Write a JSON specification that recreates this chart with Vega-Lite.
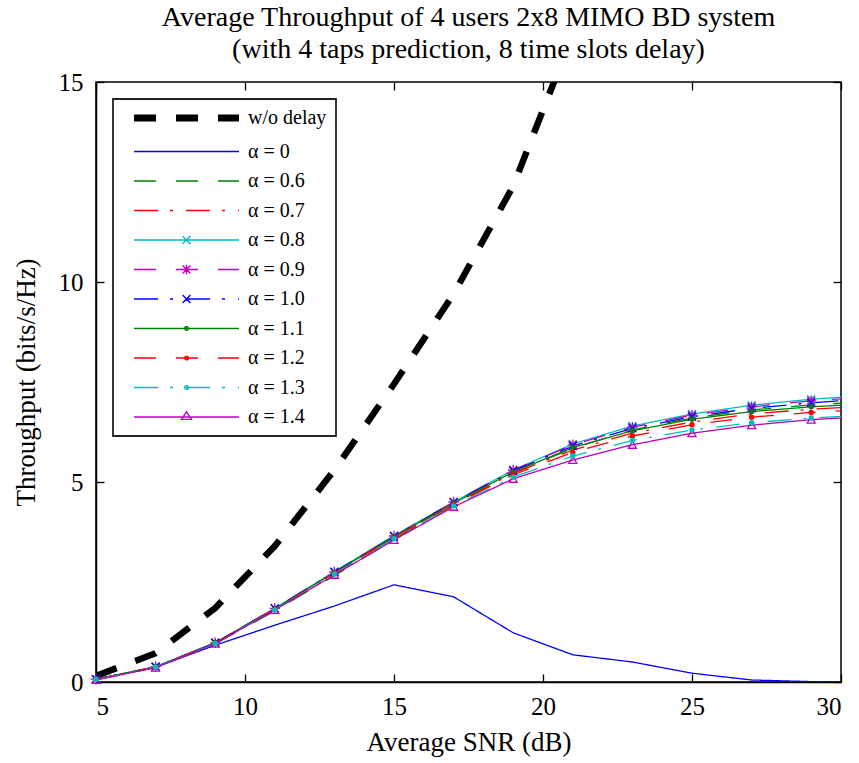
{
  "$schema": "https://vega.github.io/schema/vega-lite/v6.json",
  "width": 745,
  "height": 600,
  "autosize": {"type": "none"},
  "padding": {"left": 96, "top": 82, "right": 18, "bottom": 81},
  "background": "white",
  "title": {
    "text": ["Average Throughput of 4 users 2x8 MIMO BD system", "(with 4 taps prediction, 8 time slots delay)"],
    "font": "Liberation Serif",
    "fontSize": 28,
    "fontWeight": "normal",
    "lineHeight": 32,
    "offset": 6,
    "anchor": "middle",
    "color": "black"
  },
  "data": {
    "values": [
      {"series": "w/o delay", "snr": 5, "tp": 0.15},
      {"series": "w/o delay", "snr": 7, "tp": 0.72},
      {"series": "w/o delay", "snr": 9, "tp": 1.85},
      {"series": "w/o delay", "snr": 11, "tp": 3.4},
      {"series": "w/o delay", "snr": 13, "tp": 5.3},
      {"series": "w/o delay", "snr": 15, "tp": 7.45},
      {"series": "w/o delay", "snr": 17, "tp": 9.7},
      {"series": "w/o delay", "snr": 19, "tp": 12.4},
      {"series": "w/o delay", "snr": 21, "tp": 16.2},

      {"series": "α = 0", "snr": 5, "tp": 0.07},
      {"series": "α = 0", "snr": 7, "tp": 0.37},
      {"series": "α = 0", "snr": 9, "tp": 0.92},
      {"series": "α = 0", "snr": 11, "tp": 1.42},
      {"series": "α = 0", "snr": 13, "tp": 1.9},
      {"series": "α = 0", "snr": 15, "tp": 2.43},
      {"series": "α = 0", "snr": 17, "tp": 2.13},
      {"series": "α = 0", "snr": 19, "tp": 1.23},
      {"series": "α = 0", "snr": 21, "tp": 0.68},
      {"series": "α = 0", "snr": 23, "tp": 0.5},
      {"series": "α = 0", "snr": 25, "tp": 0.22},
      {"series": "α = 0", "snr": 27, "tp": 0.05},
      {"series": "α = 0", "snr": 29, "tp": 0.01},
      {"series": "α = 0", "snr": 30, "tp": 0.0},

      {"series": "α = 0.6", "snr": 5, "tp": 0.06},
      {"series": "α = 0.6", "snr": 7, "tp": 0.36},
      {"series": "α = 0.6", "snr": 9, "tp": 0.95},
      {"series": "α = 0.6", "snr": 11, "tp": 1.78},
      {"series": "α = 0.6", "snr": 13, "tp": 2.66},
      {"series": "α = 0.6", "snr": 15, "tp": 3.56},
      {"series": "α = 0.6", "snr": 17, "tp": 4.42},
      {"series": "α = 0.6", "snr": 19, "tp": 5.22},
      {"series": "α = 0.6", "snr": 21, "tp": 5.85},
      {"series": "α = 0.6", "snr": 23, "tp": 6.3},
      {"series": "α = 0.6", "snr": 25, "tp": 6.6},
      {"series": "α = 0.6", "snr": 27, "tp": 6.8},
      {"series": "α = 0.6", "snr": 29, "tp": 6.93},
      {"series": "α = 0.6", "snr": 30, "tp": 6.97},

      {"series": "α = 0.7", "snr": 5, "tp": 0.07},
      {"series": "α = 0.7", "snr": 7, "tp": 0.37},
      {"series": "α = 0.7", "snr": 9, "tp": 0.97},
      {"series": "α = 0.7", "snr": 11, "tp": 1.82},
      {"series": "α = 0.7", "snr": 13, "tp": 2.72},
      {"series": "α = 0.7", "snr": 15, "tp": 3.61},
      {"series": "α = 0.7", "snr": 17, "tp": 4.45},
      {"series": "α = 0.7", "snr": 19, "tp": 5.22},
      {"series": "α = 0.7", "snr": 21, "tp": 5.8},
      {"series": "α = 0.7", "snr": 23, "tp": 6.22},
      {"series": "α = 0.7", "snr": 25, "tp": 6.5},
      {"series": "α = 0.7", "snr": 27, "tp": 6.7},
      {"series": "α = 0.7", "snr": 29, "tp": 6.82},
      {"series": "α = 0.7", "snr": 30, "tp": 6.86},

      {"series": "α = 0.8", "snr": 5, "tp": 0.07},
      {"series": "α = 0.8", "snr": 7, "tp": 0.38},
      {"series": "α = 0.8", "snr": 9, "tp": 0.98},
      {"series": "α = 0.8", "snr": 11, "tp": 1.84},
      {"series": "α = 0.8", "snr": 13, "tp": 2.76},
      {"series": "α = 0.8", "snr": 15, "tp": 3.66},
      {"series": "α = 0.8", "snr": 17, "tp": 4.5},
      {"series": "α = 0.8", "snr": 19, "tp": 5.3},
      {"series": "α = 0.8", "snr": 21, "tp": 5.95},
      {"series": "α = 0.8", "snr": 23, "tp": 6.4},
      {"series": "α = 0.8", "snr": 25, "tp": 6.7},
      {"series": "α = 0.8", "snr": 27, "tp": 6.92},
      {"series": "α = 0.8", "snr": 29, "tp": 7.07},
      {"series": "α = 0.8", "snr": 30, "tp": 7.12},

      {"series": "α = 0.9", "snr": 5, "tp": 0.07},
      {"series": "α = 0.9", "snr": 7, "tp": 0.38},
      {"series": "α = 0.9", "snr": 9, "tp": 0.98},
      {"series": "α = 0.9", "snr": 11, "tp": 1.84},
      {"series": "α = 0.9", "snr": 13, "tp": 2.75},
      {"series": "α = 0.9", "snr": 15, "tp": 3.65},
      {"series": "α = 0.9", "snr": 17, "tp": 4.5},
      {"series": "α = 0.9", "snr": 19, "tp": 5.3},
      {"series": "α = 0.9", "snr": 21, "tp": 5.93},
      {"series": "α = 0.9", "snr": 23, "tp": 6.37},
      {"series": "α = 0.9", "snr": 25, "tp": 6.67},
      {"series": "α = 0.9", "snr": 27, "tp": 6.88},
      {"series": "α = 0.9", "snr": 29, "tp": 7.03},
      {"series": "α = 0.9", "snr": 30, "tp": 7.08},

      {"series": "α = 1.0", "snr": 5, "tp": 0.07},
      {"series": "α = 1.0", "snr": 7, "tp": 0.38},
      {"series": "α = 1.0", "snr": 9, "tp": 0.98},
      {"series": "α = 1.0", "snr": 11, "tp": 1.84},
      {"series": "α = 1.0", "snr": 13, "tp": 2.75},
      {"series": "α = 1.0", "snr": 15, "tp": 3.64},
      {"series": "α = 1.0", "snr": 17, "tp": 4.49},
      {"series": "α = 1.0", "snr": 19, "tp": 5.28},
      {"series": "α = 1.0", "snr": 21, "tp": 5.9},
      {"series": "α = 1.0", "snr": 23, "tp": 6.34},
      {"series": "α = 1.0", "snr": 25, "tp": 6.63},
      {"series": "α = 1.0", "snr": 27, "tp": 6.84},
      {"series": "α = 1.0", "snr": 29, "tp": 6.98},
      {"series": "α = 1.0", "snr": 30, "tp": 7.03},

      {"series": "α = 1.1", "snr": 5, "tp": 0.07},
      {"series": "α = 1.1", "snr": 7, "tp": 0.38},
      {"series": "α = 1.1", "snr": 9, "tp": 0.98},
      {"series": "α = 1.1", "snr": 11, "tp": 1.83},
      {"series": "α = 1.1", "snr": 13, "tp": 2.74},
      {"series": "α = 1.1", "snr": 15, "tp": 3.63},
      {"series": "α = 1.1", "snr": 17, "tp": 4.47},
      {"series": "α = 1.1", "snr": 19, "tp": 5.25},
      {"series": "α = 1.1", "snr": 21, "tp": 5.86},
      {"series": "α = 1.1", "snr": 23, "tp": 6.28},
      {"series": "α = 1.1", "snr": 25, "tp": 6.57},
      {"series": "α = 1.1", "snr": 27, "tp": 6.76},
      {"series": "α = 1.1", "snr": 29, "tp": 6.88},
      {"series": "α = 1.1", "snr": 30, "tp": 6.92},

      {"series": "α = 1.2", "snr": 5, "tp": 0.07},
      {"series": "α = 1.2", "snr": 7, "tp": 0.37},
      {"series": "α = 1.2", "snr": 9, "tp": 0.97},
      {"series": "α = 1.2", "snr": 11, "tp": 1.82},
      {"series": "α = 1.2", "snr": 13, "tp": 2.72},
      {"series": "α = 1.2", "snr": 15, "tp": 3.6},
      {"series": "α = 1.2", "snr": 17, "tp": 4.43},
      {"series": "α = 1.2", "snr": 19, "tp": 5.18},
      {"series": "α = 1.2", "snr": 21, "tp": 5.74},
      {"series": "α = 1.2", "snr": 23, "tp": 6.15},
      {"series": "α = 1.2", "snr": 25, "tp": 6.43},
      {"series": "α = 1.2", "snr": 27, "tp": 6.62},
      {"series": "α = 1.2", "snr": 29, "tp": 6.74},
      {"series": "α = 1.2", "snr": 30, "tp": 6.78},

      {"series": "α = 1.3", "snr": 5, "tp": 0.06},
      {"series": "α = 1.3", "snr": 7, "tp": 0.37},
      {"series": "α = 1.3", "snr": 9, "tp": 0.96},
      {"series": "α = 1.3", "snr": 11, "tp": 1.8},
      {"series": "α = 1.3", "snr": 13, "tp": 2.7},
      {"series": "α = 1.3", "snr": 15, "tp": 3.58},
      {"series": "α = 1.3", "snr": 17, "tp": 4.4},
      {"series": "α = 1.3", "snr": 19, "tp": 5.12},
      {"series": "α = 1.3", "snr": 21, "tp": 5.65},
      {"series": "α = 1.3", "snr": 23, "tp": 6.04},
      {"series": "α = 1.3", "snr": 25, "tp": 6.3},
      {"series": "α = 1.3", "snr": 27, "tp": 6.48},
      {"series": "α = 1.3", "snr": 29, "tp": 6.6},
      {"series": "α = 1.3", "snr": 30, "tp": 6.64},

      {"series": "α = 1.4", "snr": 5, "tp": 0.05},
      {"series": "α = 1.4", "snr": 7, "tp": 0.36},
      {"series": "α = 1.4", "snr": 9, "tp": 0.96},
      {"series": "α = 1.4", "snr": 11, "tp": 1.8},
      {"series": "α = 1.4", "snr": 13, "tp": 2.68},
      {"series": "α = 1.4", "snr": 15, "tp": 3.55},
      {"series": "α = 1.4", "snr": 17, "tp": 4.38},
      {"series": "α = 1.4", "snr": 19, "tp": 5.08},
      {"series": "α = 1.4", "snr": 21, "tp": 5.55},
      {"series": "α = 1.4", "snr": 23, "tp": 5.93},
      {"series": "α = 1.4", "snr": 25, "tp": 6.22},
      {"series": "α = 1.4", "snr": 27, "tp": 6.42},
      {"series": "α = 1.4", "snr": 29, "tp": 6.56},
      {"series": "α = 1.4", "snr": 30, "tp": 6.6}
    ]
  },
  "config": {
    "font": "Liberation Serif",
    "view": {"stroke": "black", "strokeWidth": 1.5},
    "axis": {
      "grid": false,
      "domainColor": "black",
      "domainWidth": 1.5,
      "tickColor": "black",
      "tickWidth": 1.3,
      "labelFont": "Liberation Serif",
      "labelFontSize": 25,
      "labelColor": "black",
      "titleFont": "Liberation Serif",
      "titleFontSize": 27,
      "titleFontWeight": "normal",
      "titleColor": "black"
    },
    "legend": {"labelFont": "Liberation Serif"}
  },
  "layer": [
    {
      "mark": {"type": "line", "clip": true, "strokeCap": "butt"},
      "encoding": {
        "x": {
          "field": "snr", "type": "quantitative",
          "scale": {"domain": [5, 30], "nice": false, "zero": false},
          "axis": {"orient": "bottom", "values": [5, 10, 15, 20, 25, 30], "tickSize": -8, "labelPadding": 20, "title": "Average SNR (dB)", "titlePadding": 10, "labelFont": "Liberation Serif", "labelFontSize": 25, "titleFont": "Liberation Serif", "titleFontSize": 27, "titleFontWeight": "normal"}
        },
        "y": {
          "field": "tp", "type": "quantitative",
          "scale": {"domain": [0, 15], "nice": false},
          "axis": {"orient": "left", "values": [0, 5, 10, 15], "tickSize": -8, "labelPadding": 21, "title": "Throughput (bits/s/Hz)", "titlePadding": 18, "labelFont": "Liberation Serif", "labelFontSize": 25, "titleFont": "Liberation Serif", "titleFontSize": 27, "titleFontWeight": "normal"}
        },
        "color": {
          "field": "series", "type": "nominal",
          "scale": {
            "domain": ["w/o delay", "α = 0", "α = 0.6", "α = 0.7", "α = 0.8", "α = 0.9", "α = 1.0", "α = 1.1", "α = 1.2", "α = 1.3", "α = 1.4"],
            "range": ["#000000", "#0000FF", "#008000", "#FF0000", "#00BFBF", "#BF00BF", "#0000FF", "#008000", "#FF0000", "#00BFBF", "#BF00BF"]
          },
          "legend": {
            "orient": "none",
            "legendX": 17,
            "legendY": 17,
            "title": null,
            "direction": "vertical",
            "symbolSize": 11025,
            "symbolStrokeWidth": 1.3,
            "symbolOffset": 2,
            "symbolFillColor": "transparent",
            "labelFont": "Liberation Serif",
            "labelFontSize": 20,
            "labelColor": "black",
            "labelOffset": 104,
            "labelLimit": 300,
            "rowPadding": 9.5,
            "padding": 9,
            "fillColor": "white",
            "strokeColor": "#222222",
            "encode": {
              "legend": {"update": {"strokeWidth": {"value": 1.8}}},
              "labels": {"update": {"font": {"value": "Liberation Serif"}}},
              "symbols": {
                "update": {
                  "shape": {"signal": "(datum.value === 'α = 0.8' || datum.value === 'α = 1.0') ? 'M0.925,-0.075L1.075,0.075M0.925,0.075L1.075,-0.075M0,0H2' : datum.value === 'α = 0.9' ? 'M0.925,-0.075L1.075,0.075M0.925,0.075L1.075,-0.075M1,-0.09V0.09M0,0H2' : indexof(['α = 1.1', 'α = 1.2', 'α = 1.3'], datum.value) >= 0 ? 'M0.965,0A0.035 0.035 0 1 0 1.035,0A0.035 0.035 0 1 0 0.965,0M0,0H2' : datum.value === 'α = 1.4' ? 'M1,-0.1L1.095,0.045L0.905,0.045ZM0,0H2' : 'M0,0H2'"},
                  "strokeWidth": {"signal": "datum.value === 'w/o delay' ? 7 : 1.4"},
                  "fill": {"value": "transparent"},
                  "size": {"value": 11025}
                }
              }
            }
          }
        },
        "strokeDash": {
          "field": "series", "type": "nominal",
          "scale": {
            "domain": ["w/o delay", "α = 0", "α = 0.6", "α = 0.7", "α = 0.8", "α = 0.9", "α = 1.0", "α = 1.1", "α = 1.2", "α = 1.3", "α = 1.4"],
            "range": [[22, 20], [1, 0], [22, 20], [24, 12, 3, 13], [1, 0], [22, 20], [24, 12, 3, 13], [1, 0], [22, 20], [24, 12, 3, 13], [1, 0]]
          },
          "legend": null
        },
        "strokeWidth": {
          "condition": {"test": "datum.series === 'w/o delay'", "value": 6.5},
          "value": 1.3
        }
      }
    },
    {
      "transform": [
        {"filter": {"field": "series", "oneOf": ["α = 0.8", "α = 0.9", "α = 1.0", "α = 1.4"]}},
        {"filter": "datum.snr <= 29"}
      ],
      "mark": {"type": "point", "filled": false, "strokeWidth": 1.3, "opacity": 1},
      "encoding": {
        "x": {
          "field": "snr", "type": "quantitative",
          "axis": {"orient": "top", "values": [5, 10, 15, 20, 25, 30], "tickSize": -8, "labels": false, "title": null, "domain": false}
        },
        "y": {
          "field": "tp", "type": "quantitative",
          "axis": {"orient": "right", "values": [0, 5, 10, 15], "tickSize": -8, "labels": false, "title": null, "domain": false}
        },
        "color": {"field": "series", "type": "nominal"},
        "shape": {
          "field": "series", "type": "nominal",
          "scale": {
            "domain": ["α = 0.8", "α = 0.9", "α = 1.0", "α = 1.4"],
            "range": ["M-1,-1L1,1M-1,1L1,-1", "M-1,-1L1,1M-1,1L1,-1M0,-1.3V1.3M-1.3,0H1.3", "M-1,-1L1,1M-1,1L1,-1", "triangle-up"]
          },
          "legend": null
        },
        "size": {"value": 64}
      }
    },
    {
      "transform": [
        {"filter": {"field": "series", "oneOf": ["α = 1.1", "α = 1.2", "α = 1.3"]}},
        {"filter": "datum.snr <= 29"}
      ],
      "mark": {"type": "point", "shape": "circle", "filled": false, "strokeWidth": 3, "opacity": 1, "size": 6},
      "encoding": {
        "x": {"field": "snr", "type": "quantitative", "axis": null},
        "y": {"field": "tp", "type": "quantitative", "axis": null},
        "color": {"field": "series", "type": "nominal"}
      }
    }
  ],
  "resolve": {"axis": {"x": "independent", "y": "independent"}}
}
